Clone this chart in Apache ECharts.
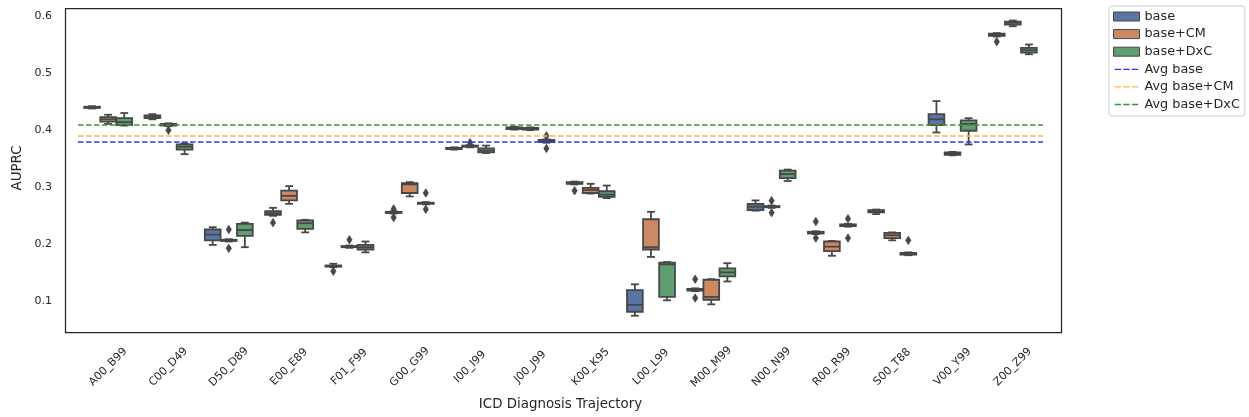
<!DOCTYPE html>
<html><head><meta charset="utf-8">
<script src="https://cdn.jsdelivr.net/npm/echarts@6/dist/echarts.min.js"></script>
<style>html,body{margin:0;padding:0;background:#fff}#c{width:1249px;height:417px}</style>
</head><body><div id="c"></div>
<script>
const categories = ['A00_B99','C00_D49','D50_D89','E00_E89','F01_F99','G00_G99','I00_I99','J00_J99','K00_K95','L00_L99','M00_M99','N00_N99','R00_R99','S00_T88','V00_Y99','Z00_Z99'];
const hueNames = ['base','base+CM','base+DxC'];
const avgNames = ['Avg base','Avg base+CM','Avg base+DxC'];
// [min, q1, median, q3, max]
const baseStats = [
  [0.438,0.439,0.440,0.441,0.442],[0.419,0.421,0.423,0.426,0.428],[0.199,0.207,0.217,0.226,0.230],
  [0.250,0.2515,0.254,0.258,0.264],[0.160,0.161,0.162,0.163,0.166],[0.254,0.255,0.256,0.257,0.258],
  [0.366,0.367,0.368,0.369,0.370],[0.401,0.402,0.404,0.405,0.406],[0.305,0.306,0.307,0.309,0.310],
  [0.075,0.082,0.094,0.120,0.130],[0.118,0.119,0.120,0.122,0.123],[0.259,0.260,0.266,0.271,0.277],
  [0.218,0.219,0.220,0.222,0.223],[0.253,0.256,0.258,0.260,0.261],[0.396,0.409,0.419,0.428,0.451],
  [0.564,0.565,0.567,0.569,0.570]
];
const cmStats = [
  [0.411,0.415,0.419,0.423,0.427],[0.407,0.408,0.410,0.411,0.412],[0.205,0.206,0.207,0.208,0.209],
  [0.271,0.277,0.285,0.294,0.302],[0.194,0.195,0.196,0.197,0.198],[0.284,0.290,0.305,0.307,0.309],
  [0.370,0.371,0.372,0.373,0.374],[0.400,0.401,0.402,0.404,0.405],[0.289,0.290,0.295,0.299,0.306],
  [0.178,0.191,0.195,0.244,0.257],[0.095,0.103,0.108,0.138,0.139],[0.264,0.265,0.266,0.267,0.268],
  [0.180,0.188,0.196,0.205,0.206],[0.207,0.211,0.216,0.220,0.221],[0.356,0.357,0.359,0.361,0.362],
  [0.582,0.585,0.588,0.590,0.592]
];
const dxcStats = [
  [0.408,0.409,0.414,0.421,0.430],[0.358,0.366,0.371,0.375,0.377],[0.195,0.215,0.225,0.236,0.238],
  [0.221,0.227,0.237,0.242,0.243],[0.186,0.191,0.195,0.199,0.205],[0.270,0.271,0.272,0.273,0.274],
  [0.360,0.361,0.364,0.368,0.373],[0.378,0.379,0.381,0.383,0.384],[0.281,0.283,0.287,0.293,0.303],
  [0.102,0.108,0.165,0.168,0.169],[0.135,0.144,0.151,0.158,0.167],[0.311,0.316,0.323,0.329,0.331],
  [0.231,0.232,0.233,0.235,0.236],[0.181,0.182,0.183,0.185,0.186],[0.375,0.399,0.411,0.417,0.421],
  [0.533,0.536,0.540,0.544,0.550]
];
// [categoryIndex, value]
const baseOutliers = [[3,0.238],[4,0.153],[5,0.262],[5,0.247],[8,0.294],[10,0.139],[10,0.106],[12,0.240],[12,0.211],[15,0.555]];
const cmOutliers = [[1,0.400],[2,0.226],[2,0.193],[4,0.208],[6,0.378],[11,0.2765],[11,0.2555]];
const dxcOutliers = [[5,0.290],[5,0.2615],[7,0.390],[7,0.368],[12,0.245],[12,0.211],[13,0.207]];
const avgValues = [0.379, 0.387, 0.409];

const boxColors = ['#5875a4','#cc8963','#5f9e6e'];
const avgColors = ['#3333ff','#ffb733','#339933'];
const edge = '#474747';
const textColor = '#262626';
const dashIcon = 'path://M0,0H0.01V0.01H0Z M0,4.25H7V5.75H0Z M9.5,4.25H16.5V5.75H9.5Z M19,4.25H26V5.75H19Z M25.99,9.99H26V10H25.99Z';

function hueOffset(api, hue) {
  const band = api.size([1, 0])[0];
  const step = band * 0.8 / 3;
  return { step: step, off: (hue - 1) * step };
}

function boxRender(hue) {
  return function (params, api) {
    const cat = api.value(0);
    const g = hueOffset(api, hue);
    const cx = api.coord([cat, 0.3])[0] + g.off;
    const bw = g.step * 0.98;
    const capW = bw * 0.5;
    const y = k => api.coord([cat, api.value(k)])[1];
    const yMin = y(1), yQ1 = y(2), yMed = y(3), yQ3 = y(4), yMax = y(5);
    const ls = { stroke: edge, lineWidth: 1.8 };
    return {
      type: 'group',
      children: [
        { type: 'line', shape: { x1: cx, y1: yMin, x2: cx, y2: yQ1 }, style: ls },
        { type: 'line', shape: { x1: cx, y1: yQ3, x2: cx, y2: yMax }, style: ls },
        { type: 'line', shape: { x1: cx - capW / 2, y1: yMin, x2: cx + capW / 2, y2: yMin }, style: ls },
        { type: 'line', shape: { x1: cx - capW / 2, y1: yMax, x2: cx + capW / 2, y2: yMax }, style: ls },
        { type: 'rect', shape: { x: cx - bw / 2, y: yQ3, width: bw, height: Math.max(yQ1 - yQ3, 0.5) },
          style: { fill: boxColors[hue], stroke: edge, lineWidth: 1.8 } },
        { type: 'line', shape: { x1: cx - bw / 2, y1: yMed, x2: cx + bw / 2, y2: yMed }, style: ls }
      ]
    };
  };
}

function outlierRender(hue) {
  return function (params, api) {
    const cat = api.value(0);
    const g = hueOffset(api, hue);
    const p = api.coord([cat, api.value(1)]);
    const cx = p[0] + g.off, cy = p[1];
    return {
      type: 'polygon',
      shape: { points: [[cx, cy - 4.2], [cx + 2.6, cy], [cx, cy + 4.2], [cx - 2.6, cy]] },
      style: { fill: edge, stroke: edge, lineWidth: 0.8 }
    };
  };
}

const statsList = [baseStats, cmStats, dxcStats];
const outList = [baseOutliers, cmOutliers, dxcOutliers];

const series = [];
statsList.forEach((stats, h) => {
  series.push({
    name: hueNames[h], type: 'custom', renderItem: boxRender(h),
    itemStyle: { color: boxColors[h] },
    encode: { x: 0, y: [1, 2, 3, 4, 5] },
    data: stats.map((s, i) => [i].concat(s)),
    z: 3
  });
});
outList.forEach((outs, h) => {
  series.push({
    name: hueNames[h] + ' outliers', type: 'custom', renderItem: outlierRender(h),
    itemStyle: { color: edge },
    encode: { x: 0, y: 1 },
    data: outs.map(o => [o[0], o[1]]),
    z: 3
  });
});
avgValues.forEach((v, h) => {
  series.push({
    name: avgNames[h], type: 'line', data: categories.map(() => null), symbol: 'none',
    lineStyle: { color: avgColors[h], type: [5.5, 2.5], width: 1.5 },
    itemStyle: { color: avgColors[h] },
    markLine: {
      silent: true, symbol: ['none', 'none'], label: { show: false },
      lineStyle: { color: avgColors[h], type: [5.5, 2.5], width: 1.5, opacity: 1 },
      emphasis: { disabled: true },
      data: [{ yAxis: v }], animation: false
    },
    z: 4
  });
});

const chart = echarts.init(document.getElementById('c'), null, { renderer: 'canvas' });
chart.setOption({
  animation: false,
  backgroundColor: '#fff',
  textStyle: { fontFamily: 'DejaVu Sans' },
  grid: { left: 78, right: 206, top: 6, bottom: 87, containLabel: false },
  xAxis: {
    type: 'category', data: categories, boundaryGap: true,
    axisLine: { show: false }, axisTick: { show: false }, splitLine: { show: false },
    axisLabel: { rotate: 45, margin: 37, fontSize: 11, color: textColor, interval: 0, align: 'center', verticalAlign: 'middle' },
    name: 'ICD Diagnosis Trajectory', nameLocation: 'middle', nameGap: 68,
    nameTextStyle: { fontSize: 13.4, color: textColor }
  },
  yAxis: {
    type: 'value', min: 0.05, max: 0.6175,
    axisLine: { show: false }, axisTick: { show: false }, splitLine: { show: false },
    axisLabel: {
      margin: 26, fontSize: 11, color: textColor,
      formatter: v => (Math.abs(v * 10 - Math.round(v * 10)) < 1e-6 ? v.toFixed(1) : '')
    },
    name: 'AUPRC', nameLocation: 'middle', nameRotate: 90, nameGap: 50,
    nameTextStyle: { fontSize: 13.4, color: textColor }
  },
  legend: {
    orient: 'vertical', left: 1109, top: 6,
    padding: [3, 5, 4, 4], itemGap: 2.6, itemWidth: 26, itemHeight: 9,
    borderColor: '#cccccc', borderWidth: 1, borderRadius: 3,
    textStyle: { fontSize: 12.8, color: textColor, lineHeight: 15 },
    data: [
      { name: 'base', icon: 'rect', itemStyle: { color: boxColors[0], borderColor: edge, borderWidth: 1 } },
      { name: 'base+CM', icon: 'rect', itemStyle: { color: boxColors[1], borderColor: edge, borderWidth: 1 } },
      { name: 'base+DxC', icon: 'rect', itemStyle: { color: boxColors[2], borderColor: edge, borderWidth: 1 } },
      { name: 'Avg base', icon: dashIcon, itemStyle: { color: avgColors[0], borderWidth: 0 } },
      { name: 'Avg base+CM', icon: dashIcon, itemStyle: { color: avgColors[1], borderWidth: 0 } },
      { name: 'Avg base+DxC', icon: dashIcon, itemStyle: { color: avgColors[2], borderWidth: 0 } }
    ]
  },
  graphic: [{
    type: 'rect', left: 63, top: 6, silent: true, z: 10,
    shape: { width: 996, height: 324 },
    style: { fill: 'none', stroke: '#262626', lineWidth: 1.25 }
  }],
  series: series
});
</script>
</body></html>
